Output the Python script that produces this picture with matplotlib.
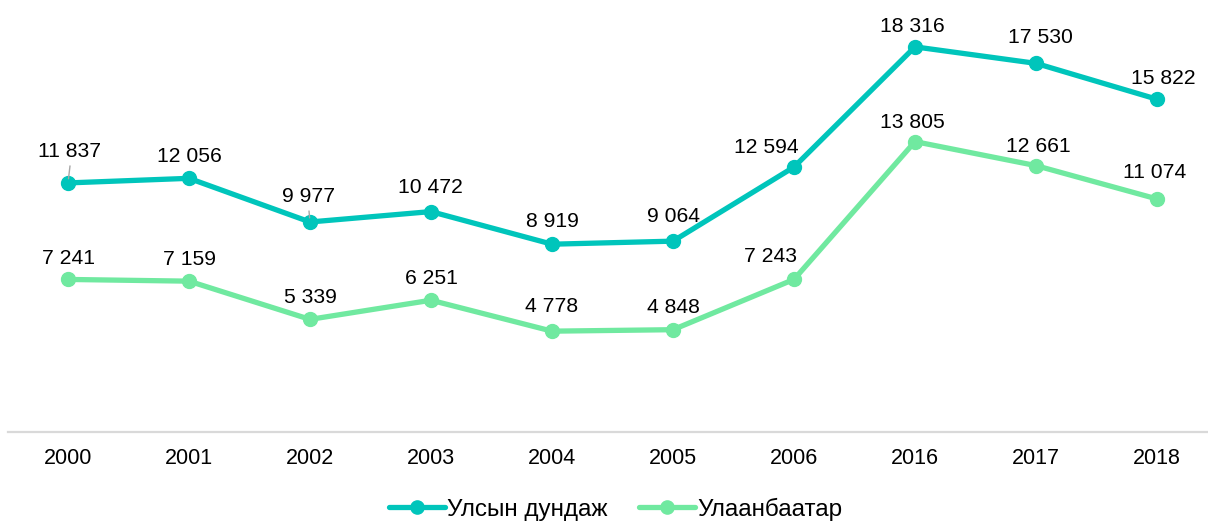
import matplotlib

matplotlib.use("Agg")
import matplotlib.pyplot as plt

plt.rcParams["font.family"] = ["Liberation Sans", "DejaVu Sans"]

# ---- data ----
years = ["2000", "2001", "2002", "2003", "2004", "2005", "2006", "2016", "2017", "2018"]
national_avg = [11837, 12056, 9977, 10472, 8919, 9064, 12594, 18316, 17530, 15822]
ulaanbaatar = [7241, 7159, 5339, 6251, 4778, 4848, 7243, 13805, 12661, 11074]
series_names = ["Улсын дундаж", "Улаанбаатар"]

TEAL = "#00C5BB"
GREEN = "#70E9A0"

# label offsets in pixels (dx, dy) from the marker centre
teal_offsets = [(2, 31), (0, 22), (-1, 25), (-1, 24), (0, 23), (0, 25), (-28, 20), (-3, 20), (4, 26), (6, 21)]
green_offsets = [(0, 21), (0, 22), (0, 22), (0, 22), (0, 25), (0, 22), (-24, 23), (-3, 19), (2, 19), (-2, 26)]
leader_idx = [0, 2]


def fmt(v: int) -> str:
    return f"{v:,}".replace(",", " ")


def px(v: float) -> float:
    return v * 72 / 100


fig = plt.figure(figsize=(12.08, 5.21), dpi=100)
ax = fig.add_axes([8 / 1208, 1 - 431.5 / 521, 1200 / 1208, 420 / 521])

xs = list(range(len(years)))
for vals, color, offs, name in [
    (national_avg, TEAL, teal_offsets, series_names[0]),
    (ulaanbaatar, GREEN, green_offsets, series_names[1]),
]:
    ax.plot(xs, vals, color=color, lw=3.8, marker="o", ms=10, label=name,
            solid_capstyle="round", solid_joinstyle="round", zorder=3)
    for i, (x, v) in enumerate(zip(xs, vals)):
        dx, dy = offs[i]
        ax.annotate(fmt(v), (x, v), xytext=(px(dx), px(dy)), textcoords="offset points",
                    ha="center", va="center", fontsize=15.2, color="#000000", zorder=4)
        if color == TEAL and i in leader_idx:
            ax.annotate("", (x, v), xytext=(px(dx), px(dy - 14)), textcoords="offset points",
                        arrowprops=dict(arrowstyle="-", color="#A6A6A6", lw=1.0,
                                        shrinkA=0, shrinkB=3))

ax.set_xlim(-60 / 121, (1208 - 68) / 121)
ax.set_ylim(0, 20000)
ax.set_xticks(xs)
ax.set_xticklabels(years, fontsize=15.5)
ax.set_yticks([])
ax.tick_params(axis="x", length=0, pad=12)
for s in ["top", "right", "left"]:
    ax.spines[s].set_visible(False)
ax.spines["bottom"].set_color("#D9D9D9")
ax.spines["bottom"].set_linewidth(1.6)

fig.legend(loc="center", bbox_to_anchor=(616 / 1208, 1 - 509 / 521), ncol=2, frameon=False,
           fontsize=17.5, handlelength=2.3, handletextpad=0.1, columnspacing=1.3,
           markerscale=0.95)

fig.savefig("out.png", dpi=100)
